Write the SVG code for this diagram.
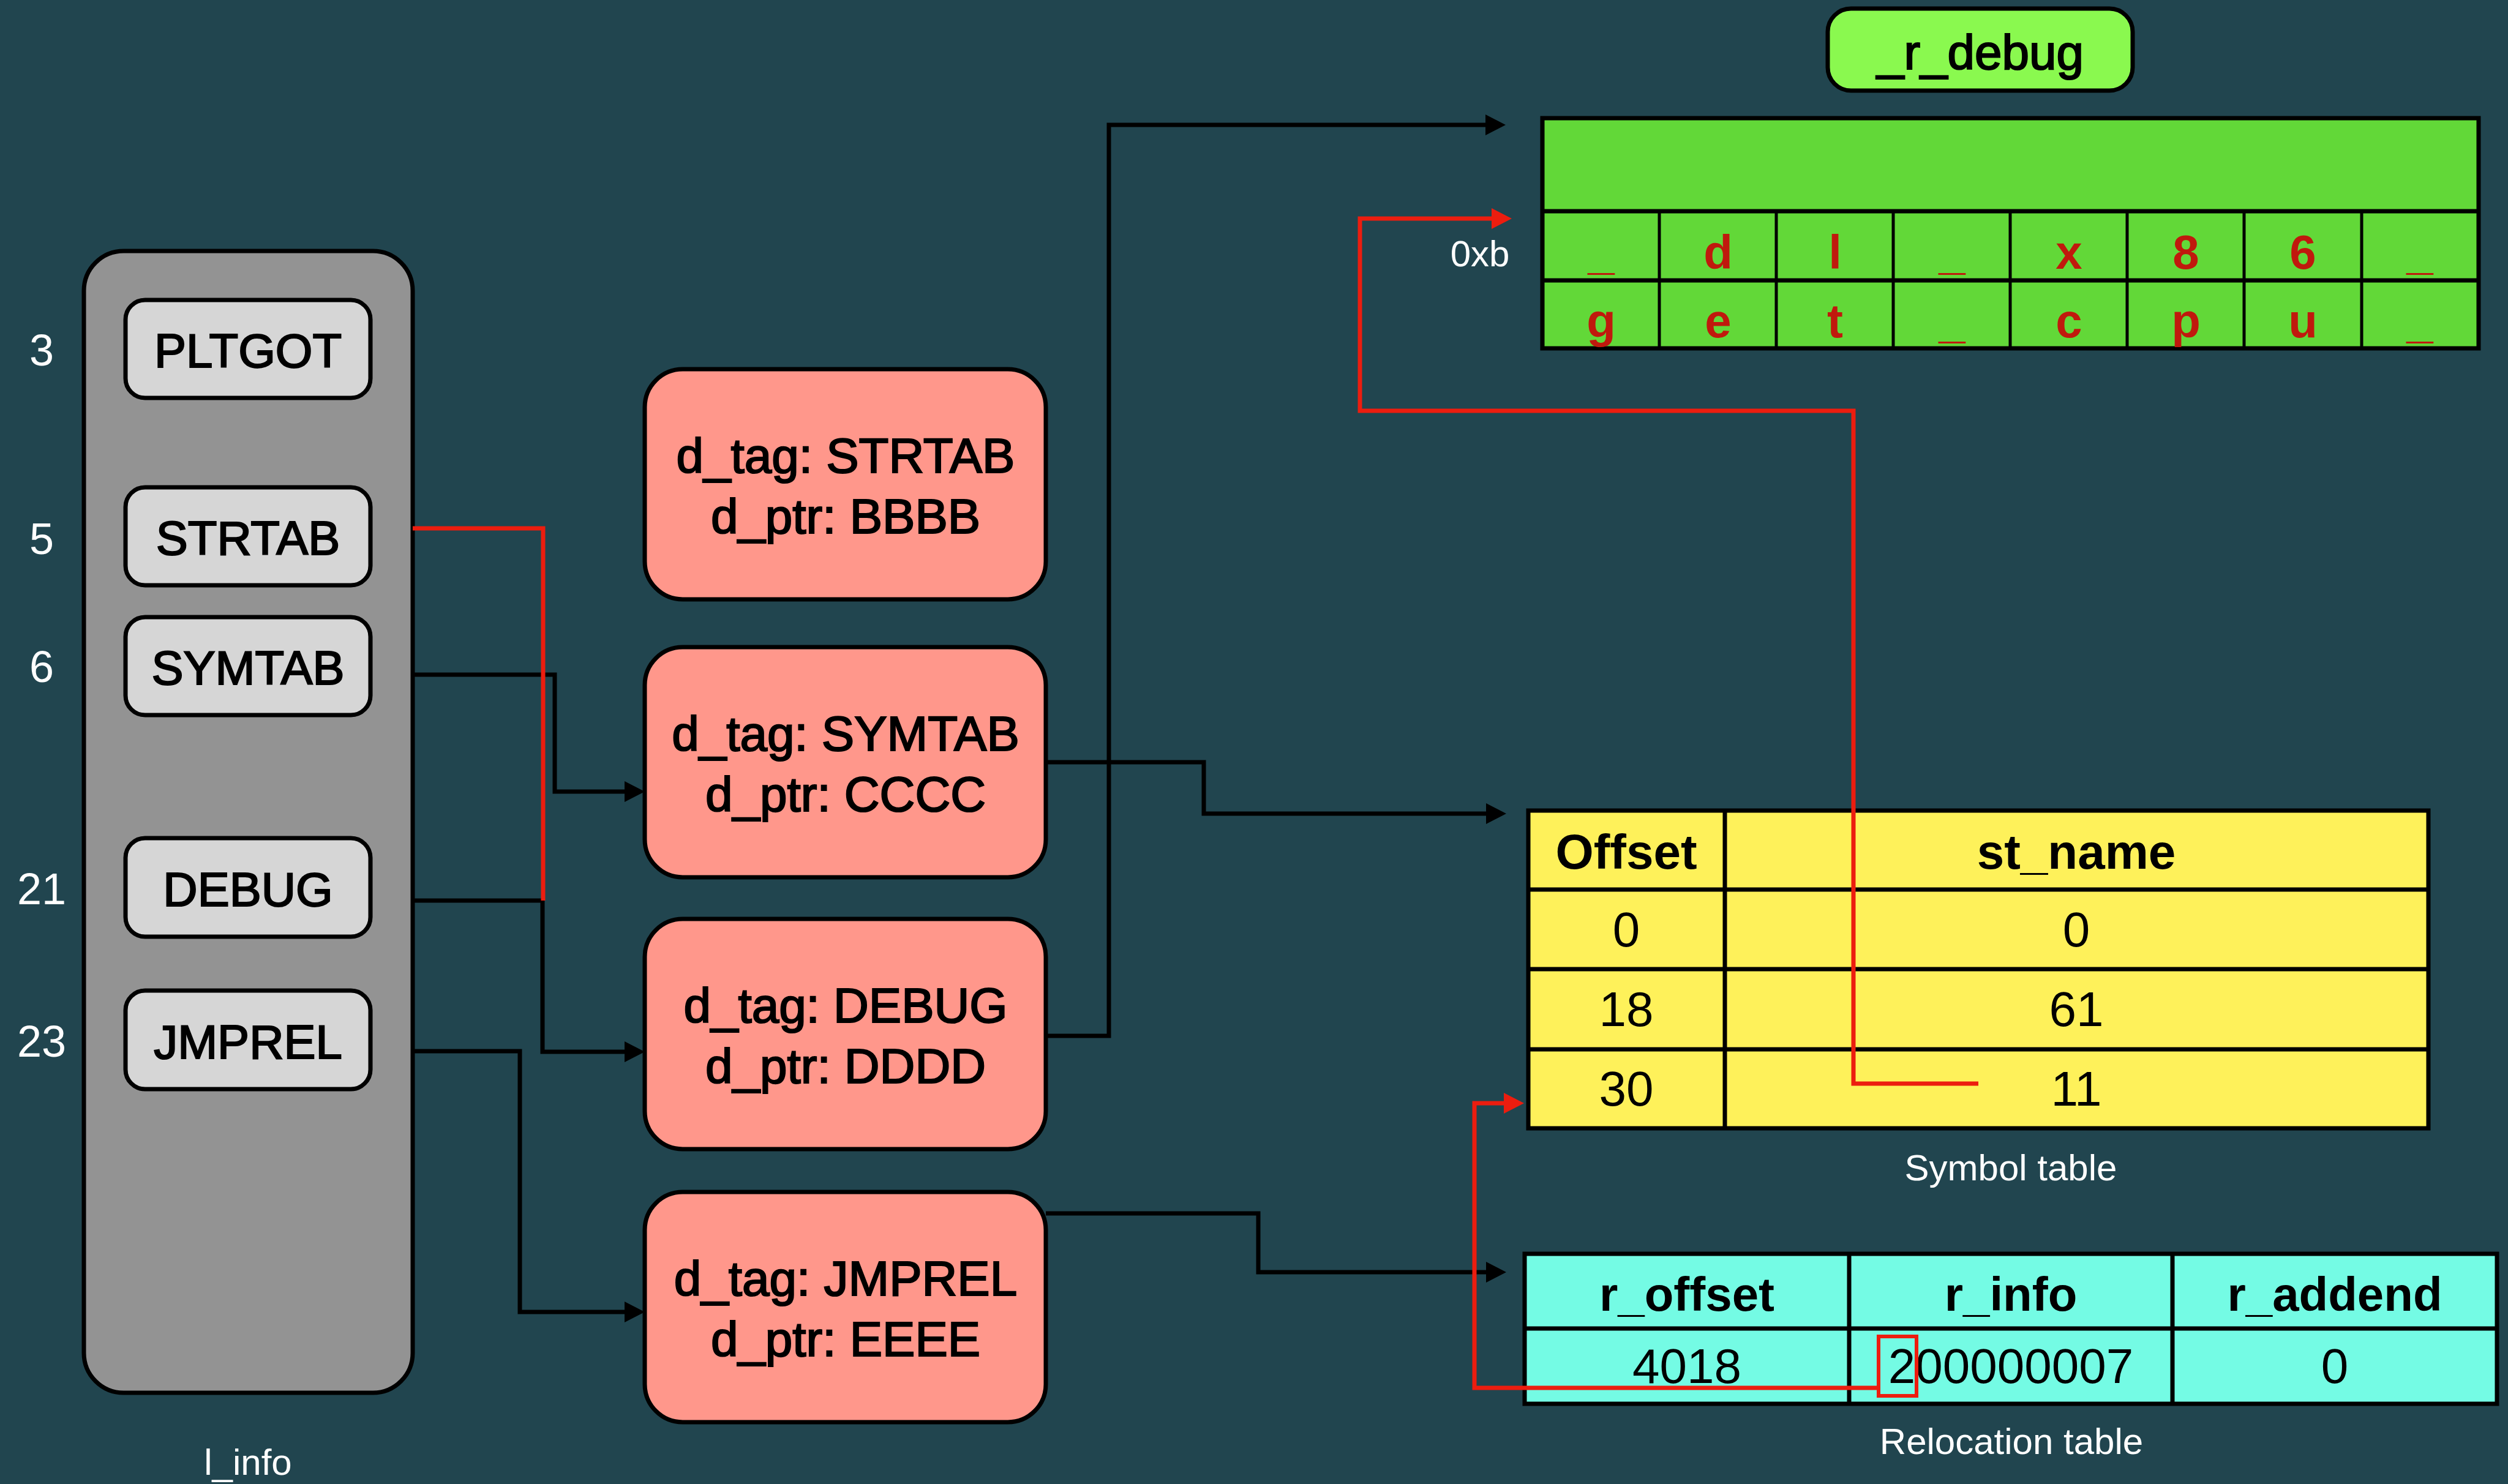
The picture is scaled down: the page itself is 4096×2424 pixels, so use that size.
<svg xmlns="http://www.w3.org/2000/svg" width="4096" height="2424" viewBox="0 0 4096 2424">
<style>
text{font-family:"Liberation Sans",Arial,sans-serif;text-anchor:middle}
.lbl{fill:#fff;font-size:60px}
.num{fill:#fff;font-size:72px}
.med{fill:#000;stroke:#000;stroke-width:2.2px;font-size:80px}
.btn{fill:#000;stroke:#000;stroke-width:2.2px;font-size:78px}
.hdr{fill:#000;font-weight:bold;font-size:80px}
.cell{fill:#000;font-size:80px}
.ltr{fill:#C0190D;font-weight:bold;font-size:78px}
.box{stroke:#000;stroke-width:7}
.grid{stroke:#000;stroke-width:7;fill:none}
.cb{fill:none;stroke:#000;stroke-width:7}
.cr{fill:none;stroke:#EC1D0F;stroke-width:7}
</style>
<defs>
<marker id="ab" markerUnits="userSpaceOnUse" markerWidth="34" markerHeight="34" refX="0" refY="17" orient="auto"><path d="M0,0 L33,17 L0,34 z" fill="#000"/></marker>
<marker id="ar" markerUnits="userSpaceOnUse" markerWidth="34" markerHeight="34" refX="0" refY="17" orient="auto"><path d="M0,0 L33,17 L0,34 z" fill="#EC1D0F"/></marker>
</defs>
<rect width="4096" height="2424" fill="#21454F"/>

<g id="l_info">
<rect class="box" x="137" y="410" width="537" height="1865" rx="65" fill="#939393"/>
<text class="lbl" x="405" y="2409">l_info</text>
</g>
<g id="idx-labels">
<text class="num" x="68" y="597">3</text>
<text class="num" x="68" y="905">5</text>
<text class="num" x="68" y="1114">6</text>
<text class="num" x="68" y="1477">21</text>
<text class="num" x="68" y="1726">23</text>
</g>
<g id="btn-pltgot"><rect class="box" x="205" y="490" width="400" height="160" rx="32" fill="#D6D6D6"/><text class="btn" x="405" y="600">PLTGOT</text></g>
<g id="btn-strtab"><rect class="box" x="205" y="796" width="400" height="160" rx="32" fill="#D6D6D6"/><text class="btn" x="405" y="906">STRTAB</text></g>
<g id="btn-symtab"><rect class="box" x="205" y="1008" width="400" height="160" rx="32" fill="#D6D6D6"/><text class="btn" x="405" y="1118">SYMTAB</text></g>
<g id="btn-debug"><rect class="box" x="205" y="1369" width="400" height="161" rx="32" fill="#D6D6D6"/><text class="btn" x="405" y="1480">DEBUG</text></g>
<g id="btn-jmprel"><rect class="box" x="205" y="1618" width="400" height="161" rx="32" fill="#D6D6D6"/><text class="btn" x="405" y="1729">JMPREL</text></g>

<g id="dyn-strtab"><rect class="box" x="1053" y="603" width="655" height="376" rx="62" fill="#FF978B"/><text class="med" x="1381" y="772">d_tag: STRTAB</text><text class="med" x="1381" y="871">d_ptr: BBBB</text></g>
<g id="dyn-symtab"><rect class="box" x="1053" y="1057" width="655" height="376" rx="62" fill="#FF978B"/><text class="med" x="1381" y="1226">d_tag: SYMTAB</text><text class="med" x="1381" y="1325">d_ptr: CCCC</text></g>
<g id="dyn-debug"><rect class="box" x="1053" y="1501" width="655" height="376" rx="62" fill="#FF978B"/><text class="med" x="1381" y="1670">d_tag: DEBUG</text><text class="med" x="1381" y="1769">d_ptr: DDDD</text></g>
<g id="dyn-jmprel"><rect class="box" x="1053" y="1947" width="655" height="376" rx="62" fill="#FF978B"/><text class="med" x="1381" y="2116">d_tag: JMPREL</text><text class="med" x="1381" y="2215">d_ptr: EEEE</text></g>

<g id="r_debug-label"><rect class="box" x="2985" y="14" width="498" height="134" rx="38" fill="#8AF94F"/><text class="med" x="3234" y="113">_r_debug</text></g>

<g id="r_debug-table">
<rect x="2519" y="193" width="1529" height="376" fill="#62D838"/>
<path class="grid" d="M2519,193 H4048 V569 H2519 Z M2519,345 H4048 M2519,458 H4048"/>
<path class="grid" style="stroke-width:5" d="M2710,345 V569 M2901,345 V569 M3092,345 V569 M3283,345 V569 M3474,345 V569 M3665,345 V569 M3857,345 V569"/>
<text class="ltr" x="2615" y="439">_</text><text class="ltr" x="2806" y="439">d</text><text class="ltr" x="2997" y="439">l</text><text class="ltr" x="3188" y="439">_</text><text class="ltr" x="3379" y="439">x</text><text class="ltr" x="3570" y="439">8</text><text class="ltr" x="3761" y="439">6</text><text class="ltr" x="3952" y="439">_</text>
<text class="ltr" x="2615" y="551">g</text><text class="ltr" x="2806" y="551">e</text><text class="ltr" x="2997" y="551">t</text><text class="ltr" x="3188" y="551">_</text><text class="ltr" x="3379" y="551">c</text><text class="ltr" x="3570" y="551">p</text><text class="ltr" x="3761" y="551">u</text><text class="ltr" x="3952" y="551">_</text>
<text class="lbl" x="2417" y="435">0xb</text>
</g>

<g id="symbol-table">
<rect x="2496" y="1324" width="1470" height="519" fill="#FEF15A"/>
<path class="grid" d="M2496,1324 H3966 V1843 H2496 Z M2496,1453 H3966 M2496,1583 H3966 M2496,1714 H3966 M2817,1324 V1843"/>
<text class="hdr" x="2656" y="1419">Offset</text><text class="hdr" x="3391" y="1419">st_name</text>
<text class="cell" x="2656" y="1546">0</text><text class="cell" x="3391" y="1546">0</text>
<text class="cell" x="2656" y="1676">18</text><text class="cell" x="3391" y="1676">61</text>
<text class="cell" x="2656" y="1806">30</text><text class="cell" x="3391" y="1806">11</text>
<text class="lbl" x="3284" y="1928">Symbol table</text>
</g>

<g id="relocation-table">
<rect x="2490" y="2048" width="1588" height="245" fill="#74FBE4"/>
<path class="grid" d="M2490,2048 H4078 V2293 H2490 Z M2490,2170 H4078 M3020,2048 V2293 M3548,2048 V2293"/>
<text class="hdr" x="2755" y="2141" style="font-size:78px">r_offset</text><text class="hdr" x="3284" y="2141" style="font-size:78px">r_info</text><text class="hdr" x="3813" y="2141" style="font-size:78px">r_addend</text>
<text class="cell" x="2755" y="2259">4018</text><text class="cell" x="3284" y="2259">200000007</text><text class="cell" x="3813" y="2259">0</text>
<rect x="3068" y="2183" width="62" height="97" fill="none" stroke="#EC1D0F" stroke-width="6"/>
<text class="lbl" x="3285" y="2375">Relocation table</text>
</g>

<g id="connectors">
<path class="cb" d="M674,1102 H906 V1293 H1020" marker-end="url(#ab)"/>
<path class="cb" d="M674,1471 H886 V1718 H1020" marker-end="url(#ab)"/>
<path class="cb" d="M674,1717 H849 V2143 H1020" marker-end="url(#ab)"/>
<path class="cr" d="M674,863 H887 V1471"/>
<path class="cb" d="M1708,1245 H1966 V1329 H2427" marker-end="url(#ab)"/>
<path class="cb" d="M1708,1692 H1811 V204 H2426" marker-end="url(#ab)"/>
<path class="cb" d="M1708,1982 H2055 V2078 H2427" marker-end="url(#ab)"/>
<path class="cr" d="M3231,1770 H3027 V671 H2221 V357 H2436" marker-end="url(#ar)"/>
<path class="cr" d="M3068,2267 H2408 V1802 H2456" marker-end="url(#ar)"/>
</g>
</svg>
